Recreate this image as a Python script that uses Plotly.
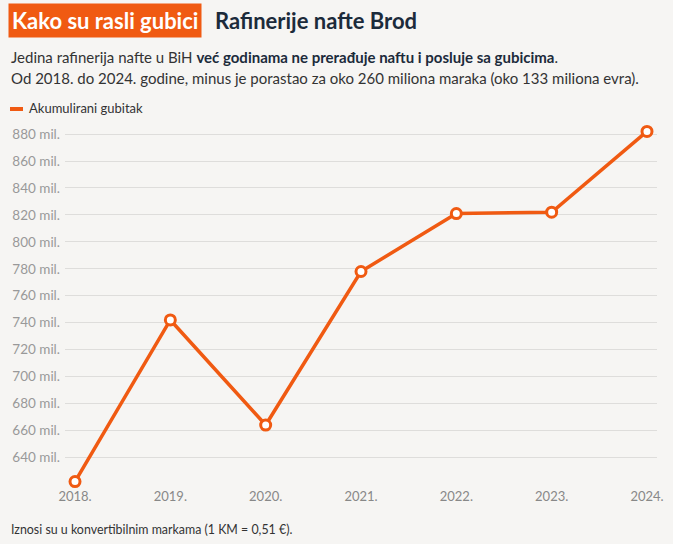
import plotly.graph_objects as go

years = ["2018.", "2019.", "2020.", "2021.", "2022.", "2023.", "2024."]
losses = [622, 742, 664, 778, 821, 822, 882]
y_ticks = [640, 660, 680, 700, 720, 740, 760, 780, 800, 820, 840, 860, 880]
y_labels = [f"{v} mil." for v in y_ticks]

W, H = 682, 544
L, R, T, B = 65, 25, 126, 57
PW, PH = W - L - R, H - T - B

def px(x):
    return (x - L) / PW

def py(y):
    return (H - B - y) / PH

ORANGE = "#f05a12"
NAVY = "#1c2b3b"
BG = "#f6f5f3"
FONT = "Lato"

fig = go.Figure()
fig.add_trace(go.Scatter(
    x=years, y=losses, mode="lines+markers",
    name="Akumulirani gubitak",
    line=dict(color=ORANGE, width=3.5),
    marker=dict(size=10, color="white", line=dict(color=ORANGE, width=3)),
    showlegend=False, cliponaxis=False,
))

annotations = [
    dict(text="<b>Kako su rasli gubici</b>", x=px(8), y=py(21), xanchor="left", yanchor="middle",
         font=dict(family=FONT, size=22, color="white"), bgcolor=ORANGE, borderpad=3),
    dict(text="<b>Rafinerije nafte Brod</b>", x=px(213), y=py(21), xanchor="left", yanchor="middle",
         font=dict(family=FONT, size=22, color=NAVY)),
    dict(text="Jedina rafinerija nafte u BiH <b style='color:#1c2b3b'>već godinama ne prerađuje naftu i posluje sa gubicima</b>.",
         x=px(9), y=py(57), xanchor="left", yanchor="middle",
         font=dict(family=FONT, size=15, color="#333333")),
    dict(text="Od 2018. do 2024. godine, minus je porastao za oko 260 miliona maraka (oko 133 miliona evra).",
         x=px(9), y=py(78), xanchor="left", yanchor="middle",
         font=dict(family=FONT, size=15, color="#333333")),
    dict(text="Akumulirani gubitak", x=px(27), y=py(108), xanchor="left", yanchor="middle",
         font=dict(family=FONT, size=13, color="#333333")),
    dict(text="Iznosi su u konvertibilnim markama (1 KM = 0,51 €).", x=px(9), y=py(529),
         xanchor="left", yanchor="middle", font=dict(family=FONT, size=12.4, color="#333333")),
]
for a in annotations:
    a.update(xref="paper", yref="paper", showarrow=False, align="left")

shapes = [
    dict(type="line", xref="paper", yref="paper", x0=px(10), x1=px(23), y0=py(109), y1=py(109),
         line=dict(color=ORANGE, width=4)),
    dict(type="rect", xref="paper", yref="paper", x0=px(673), x1=px(690), y0=py(-5), y1=py(550),
         fillcolor="white", line=dict(width=0), layer="below"),
]

fig.update_layout(
    width=W, height=H,
    margin=dict(l=L, r=R, t=T, b=B),
    paper_bgcolor=BG, plot_bgcolor=BG,
    font=dict(family=FONT, color="#999999", size=13),
    annotations=annotations, shapes=shapes,
    xaxis=dict(type="category", range=[-0.105, 6.105], showgrid=False, zeroline=False,
               showline=False, ticks="", tickfont=dict(size=13, color="#888888")),
    yaxis=dict(range=[618, 886], tickvals=y_ticks, ticktext=y_labels, showgrid=True,
               gridcolor="#dedddb", gridwidth=1, zeroline=False, showline=False, ticks="",
               ticklabelstandoff=4, tickfont=dict(size=13.5, color="#999999")),
)

fig.write_html("out.html")
